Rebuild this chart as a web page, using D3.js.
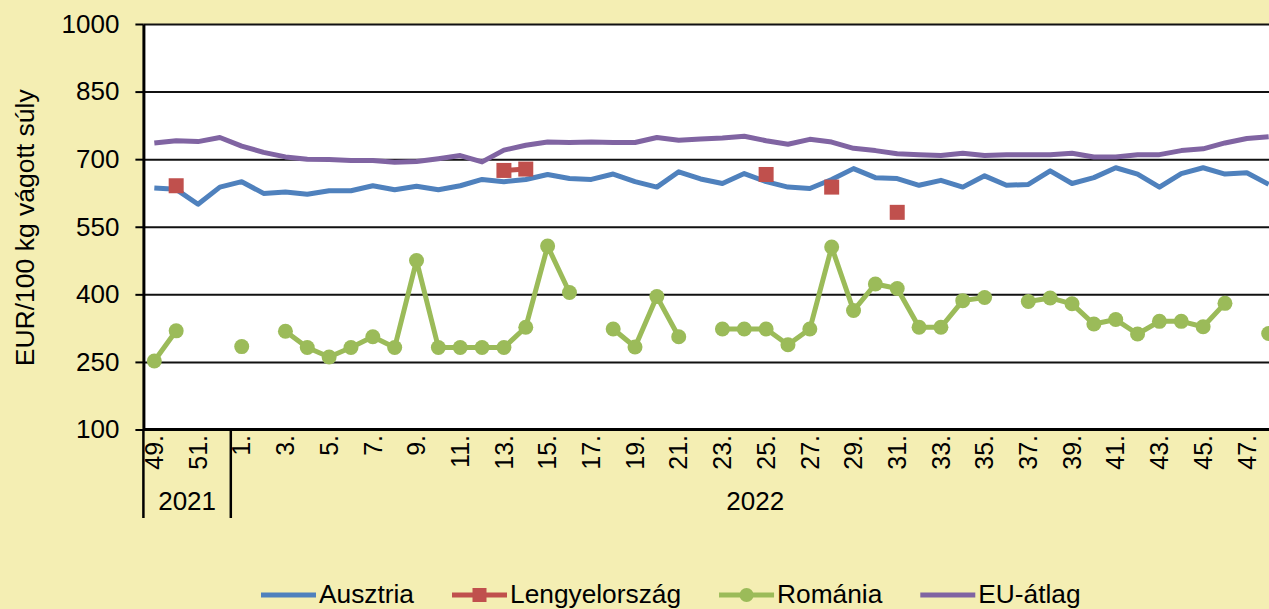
<!DOCTYPE html>
<html>
<head>
<meta charset="utf-8">
<script src="https://cdn.jsdelivr.net/npm/d3@7"></script>
<style>
  html, body { margin: 0; padding: 0; background: #F4EEB3; }
  svg { display: block; font-family: "Liberation Sans", Arial, sans-serif; }
</style>
</head>
<body>
<svg id="chart" width="1269" height="609"></svg>
<script>
// Weekly categories: last weeks of 2021 followed by 2022
const weekLabels = ["49.", "50.", "51.", "52.",
  "1.", "2.", "3.", "4.", "5.", "6.", "7.", "8.", "9.", "10.", "11.", "12.",
  "13.", "14.", "15.", "16.", "17.", "18.", "19.", "20.", "21.", "22.", "23.", "24.",
  "25.", "26.", "27.", "28.", "29.", "30.", "31.", "32.", "33.", "34.", "35.", "36.",
  "37.", "38.", "39.", "40.", "41.", "42.", "43.", "44.", "45.", "46.", "47.", "48."];
const yearLabels = ["2021", "2022"];
const weeksInYear = [4, 48];

// Prices, EUR/100 kg carcass weight (null = no quotation)
const ausztria = [636, 633, 600, 638, 650, 624, 627, 622, 630, 630, 641, 632, 640,
  632, 641, 655, 650, 655, 666, 657, 655, 667, 650, 638, 672, 656,
  646, 668, 650, 638, 635, 655, 679, 659, 657, 642, 653, 638, 663,
  642, 644, 674, 646, 659, 681, 667, 638, 668, 681, 667, 670, 644];

const lengyelorszag = [null, 641, null, null, null, null, null, null, null, null, null, null, null,
  null, null, null, 675, 678, null, null, null, null, null, null, null, null,
  null, null, 666, null, null, 638, null, null, 582, null, null, null, null,
  null, null, null, null, null, null, null, null, null, null, null, null, null];

const romania = [252, 319, null, null, 284, null, 318, 282, 261, 282, 306, 282, 475,
  282, 282, 282, 282, 327, 507, 404, null, 323, 283, 395, 306, null,
  323, 323, 323, 288, 323, 505, 364, 423, 413, 327, 327, 386, 393,
  null, 384, 392, 379, 334, 344, 312, 340, 340, 328, 380, null, 313];

const euAtlag = [736, 741, 739, 748, 729, 715, 705, 700, 699, 697, 697, 693, 695,
  701, 708, 694, 720, 731, 738, 737, 738, 737, 737, 748, 742, 745,
  747, 751, 741, 733, 744, 738, 724, 719, 712, 710, 708, 713, 708,
  710, 710, 710, 713, 705, 705, 710, 710, 719, 723, 736, 746, 750];

const yTicks = [100, 250, 400, 550, 700, 850, 1000];

const seriesList = [
  { name: "Ausztria", values: ausztria, color: "#4F81BD", marker: null },
  { name: "Lengyelország", values: lengyelorszag, color: "#C0504D", marker: "square" },
  { name: "Románia", values: romania, color: "#9BBB59", marker: "circle" },
  { name: "EU-átlag", values: euAtlag, color: "#8064A2", marker: null }
];

const svg = d3.select("#chart");
const plotLeft = 143.4, plotRight = 1279.6, plotTop = 24, plotBottom = 429.5;

const idx = weekLabels.map((d, i) => i);
const x = d3.scaleBand().domain(idx).range([plotLeft, plotRight]).padding(0);
const cx = i => x(i) + x.bandwidth() / 2;
const y = d3.scaleLinear().domain([100, 1000]).range([plotBottom, plotTop]);

// Plot area
svg.append("rect")
  .attr("x", plotLeft).attr("y", plotTop)
  .attr("width", plotRight - plotLeft).attr("height", plotBottom - plotTop)
  .attr("fill", "#ffffff");

// Horizontal gridlines
svg.append("g")
  .attr("transform", `translate(${plotLeft},0)`)
  .call(d3.axisLeft(y).tickValues(yTicks.filter(v => v > 100))
    .tickSize(-(plotRight - plotLeft)).tickFormat(""))
  .call(g => g.select(".domain").remove())
  .call(g => g.selectAll("line").attr("stroke", "#111").attr("stroke-width", 2));

// Y axis with labels
svg.append("g")
  .attr("transform", `translate(${plotLeft},0)`)
  .call(d3.axisLeft(y).tickValues(yTicks).tickFormat(d3.format("d"))
    .tickSize(8).tickSizeOuter(0).tickPadding(16))
  .call(g => g.select(".domain").attr("stroke", "#000").attr("stroke-width", 3))
  .call(g => g.selectAll(".tick line").attr("stroke", "#000").attr("stroke-width", 2))
  .call(g => g.selectAll(".tick text")
    .attr("font-size", 26).attr("fill", "#000")
    .attr("font-family", "'Liberation Sans', Arial, sans-serif"));

// Y axis title
svg.append("text")
  .attr("transform", `translate(25,${(plotTop + plotBottom) / 2 + 1}) rotate(-90)`)
  .attr("text-anchor", "middle").attr("dy", "0.35em")
  .attr("font-size", 26.5).attr("fill", "#000")
  .text("EUR/100 kg vágott súly");

// X axis line
svg.append("line")
  .attr("x1", plotLeft).attr("x2", plotRight)
  .attr("y1", plotBottom).attr("y2", plotBottom)
  .attr("stroke", "#000").attr("stroke-width", 3);

// Week labels (every second category)
svg.append("g").selectAll("text")
  .data(idx.filter(i => i % 2 === 0))
  .join("text")
  .attr("transform", i => `translate(${cx(i)},435) rotate(-90)`)
  .attr("text-anchor", "end").attr("dy", "0.35em")
  .attr("font-size", 25).attr("fill", "#000")
  .text(i => weekLabels[i]);

// Year groups: separators and labels
let start = 0;
const bounds = [0];
weeksInYear.forEach(n => { start += n; bounds.push(start); });
svg.append("g").selectAll("line")
  .data(bounds)
  .join("line")
  .attr("x1", b => b < idx.length ? x(b) : plotRight)
  .attr("x2", b => b < idx.length ? x(b) : plotRight)
  .attr("y1", plotBottom).attr("y2", 518)
  .attr("stroke", "#000").attr("stroke-width", 2.5);

svg.append("g").selectAll("text")
  .data(yearLabels)
  .join("text")
  .attr("x", (d, k) => {
    const a = x(bounds[k]);
    const b = bounds[k + 1] < idx.length ? x(bounds[k + 1]) : plotRight;
    return (a + b) / 2;
  })
  .attr("y", 501).attr("dy", "0.35em")
  .attr("text-anchor", "middle")
  .attr("font-size", 26).attr("fill", "#000")
  .text(d => d);

// Series
const line = d3.line()
  .defined(d => d != null)
  .x((d, i) => cx(i))
  .y(d => y(d));

const seriesG = svg.append("g");
seriesList.forEach(s => {
  const g = seriesG.append("g");
  g.append("path")
    .datum(s.values)
    .attr("fill", "none")
    .attr("stroke", s.color)
    .attr("stroke-width", 5)
    .attr("stroke-linejoin", "round")
    .attr("d", line);
  const pts = s.values.map((v, i) => ({ v, i })).filter(d => d.v != null);
  if (s.marker === "circle") {
    g.selectAll("circle").data(pts).join("circle")
      .attr("cx", d => cx(d.i)).attr("cy", d => y(d.v))
      .attr("r", 7.5).attr("fill", s.color);
  } else if (s.marker === "square") {
    g.selectAll("rect").data(pts).join("rect")
      .attr("x", d => cx(d.i) - 7.5).attr("y", d => y(d.v) - 7.5)
      .attr("width", 15).attr("height", 15).attr("fill", s.color);
  }
});

// Legend
const legend = svg.append("g");
let lx = 261;
const ly = 595;
seriesList.forEach(s => {
  const item = legend.append("g");
  item.append("line")
    .attr("x1", lx).attr("x2", lx + 55).attr("y1", ly).attr("y2", ly)
    .attr("stroke", s.color).attr("stroke-width", 5);
  if (s.marker === "circle") {
    item.append("circle").attr("cx", lx + 27.5).attr("cy", ly).attr("r", 7).attr("fill", s.color);
  } else if (s.marker === "square") {
    item.append("rect").attr("x", lx + 20.5).attr("y", ly - 7).attr("width", 14).attr("height", 14).attr("fill", s.color);
  }
  const t = item.append("text")
    .attr("x", lx + 58).attr("y", ly).attr("dy", "0.32em")
    .attr("font-size", 26.3).attr("fill", "#000")
    .text(s.name);
  lx += 58 + t.node().getComputedTextLength() + 38;
});
</script>
</body>
</html>
